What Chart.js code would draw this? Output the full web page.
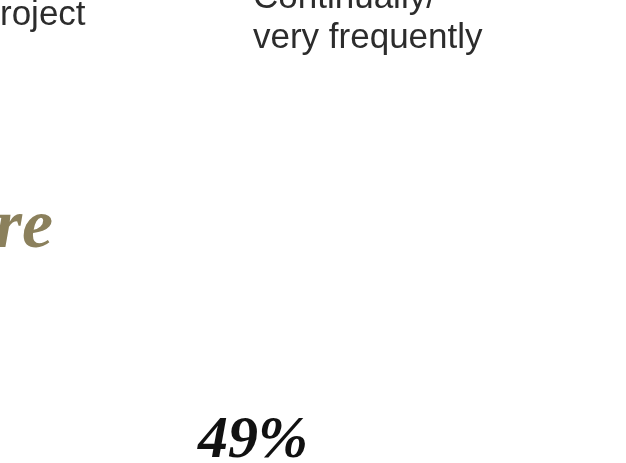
<!DOCTYPE html>
<html>
<head>
<meta charset="utf-8">
<script src="https://cdn.jsdelivr.net/npm/chart.js@4.4.0/dist/chart.umd.min.js"></script>
<style>
  html, body { margin: 0; padding: 0; background: #ffffff; overflow: hidden; width: 626px; height: 463px; }
  #wrap { position: absolute; left: 0; top: -40px; width: 626px; height: 503px; }
</style>
</head>
<body>
<div id="wrap"><canvas id="c"></canvas></div>
<script>
// Column headers (visible fragments of the original infographic)
const categories = [["roject"], ["Continually/", "very frequently"]];
// Values per column (only the second column's value is visible)
const values = [null, 49];
// Heading fragment
const heading = "re";

const textPlugin = {
  id: 'texts',
  afterDraw(chart) {
    const ctx = chart.ctx;
    const xs = chart.scales.x;
    const area = chart.chartArea;
    ctx.save();
    // column headers (last line baselines differ per column, as in the original)
    const lastBaselines = [65, 88];
    ctx.font = '35px "Liberation Sans", Arial, sans-serif';
    ctx.fillStyle = '#2c2c2c';
    ctx.textAlign = 'left';
    ctx.textBaseline = 'alphabetic';
    categories.forEach((lines, i) => {
      const x = xs.getPixelForTick(i);
      const n = lines.length;
      lines.forEach((ln, j) => {
        ctx.fillText(ln, x, lastBaselines[i] - (n - 1 - j) * 40);
      });
    });
    // heading fragment
    ctx.font = 'italic bold 70px "Liberation Serif"';
    ctx.fillStyle = '#8b805c';
    ctx.textAlign = 'right';
    ctx.fillText(heading, xs.left + 53, 287);
    // value labels
    const meta = chart.getDatasetMeta(0);
    ctx.font = 'italic bold 60px "Liberation Serif"';
    ctx.fillStyle = '#111111';
    ctx.textAlign = 'center';
    meta.data.forEach((pt, i) => {
      const v = values[i];
      if (v === null || v === undefined) return;
      ctx.fillText(v + '%', pt.x, area.bottom);
    });
    ctx.restore();
  }
};

new Chart(document.getElementById('c'), {
  type: 'line',
  data: {
    labels: categories,
    datasets: [{
      data: values,
      showLine: false,
      pointRadius: 0,
      borderColor: 'transparent',
      backgroundColor: 'transparent'
    }]
  },
  options: {
    responsive: true,
    maintainAspectRatio: false,
    animation: false,
    events: [],
    layout: { padding: { left: 0, right: 373, top: 0, bottom: 6 } },
    plugins: { legend: { display: false }, tooltip: { enabled: false }, title: { display: false } },
    scales: {
      x: {
        type: 'category',
        position: 'top',
        offset: false,
        border: { display: false },
        grid: { display: false, drawTicks: false },
        ticks: { display: false }
      },
      y: { display: false, min: 0, max: 100 }
    }
  },
  plugins: [textPlugin]
});
</script>
</body>
</html>
